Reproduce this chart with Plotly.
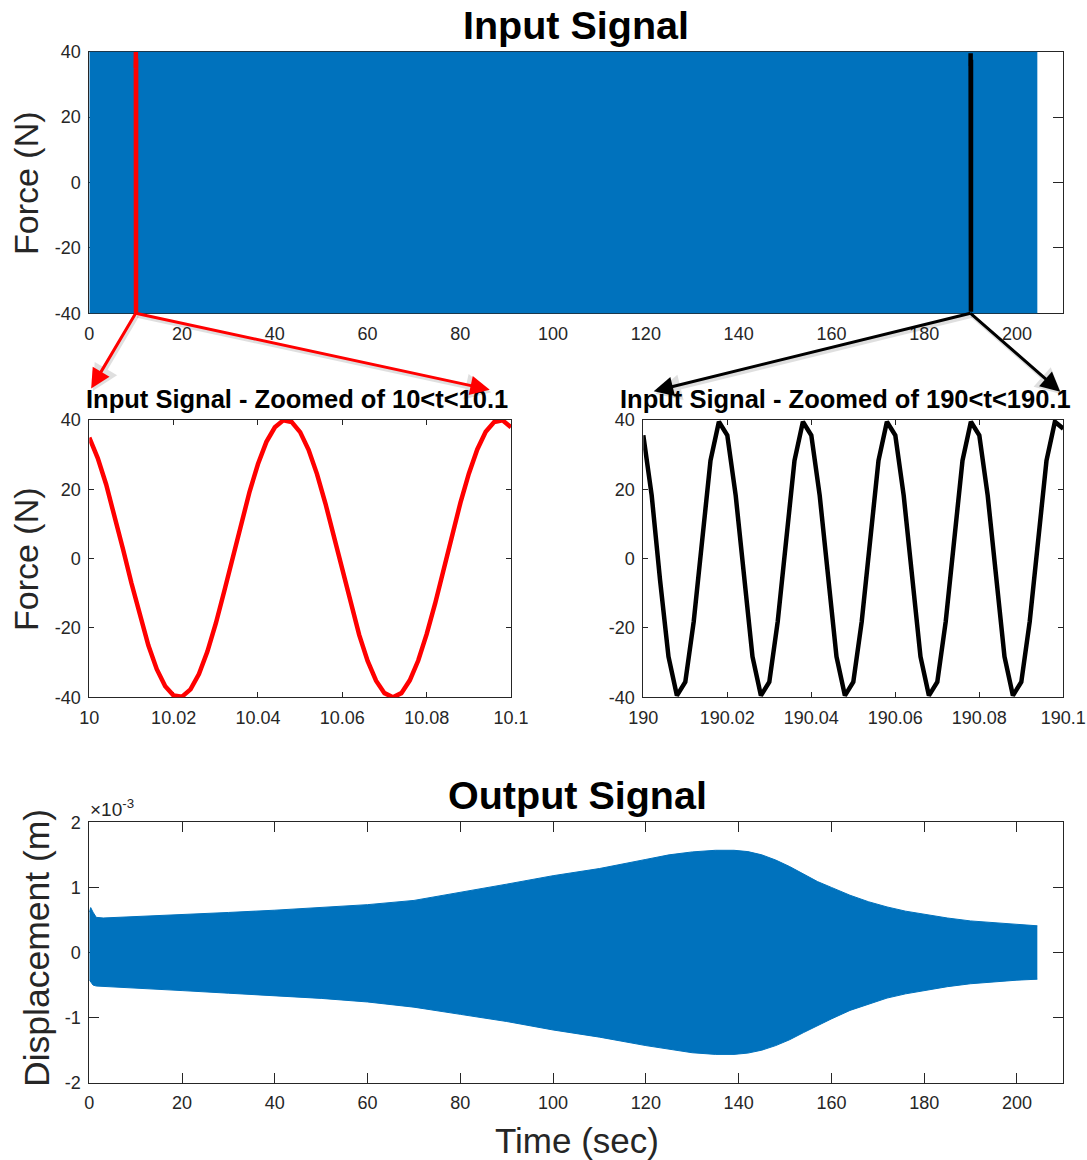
import plotly.graph_objects as go

# ---------------- data ----------------
# Input signal envelope (chirp, +/-40 N, 0 .. ~204.4 s)
input_env_t = [0.0, 204.4]
input_env_max = [40.0, 40.0]
input_env_min = [-40.0, -40.0]

# Zoomed window 10 < t < 10.1 (red)
zoom1_t = [10.000, 10.002, 10.004, 10.006, 10.008, 10.010, 10.012, 10.014, 10.016, 10.018,
           10.020, 10.022, 10.024, 10.026, 10.028, 10.030, 10.032, 10.034, 10.036, 10.038,
           10.040, 10.042, 10.044, 10.046, 10.048, 10.050, 10.052, 10.054, 10.056, 10.058,
           10.060, 10.062, 10.064, 10.066, 10.068, 10.070, 10.072, 10.074, 10.076, 10.078,
           10.080, 10.082, 10.084, 10.086, 10.088, 10.090, 10.092, 10.094, 10.096, 10.098,
           10.100]
zoom1_f = [34.9, 29.0, 21.4, 12.4, 2.7, -7.1, -16.6, -25.0, -31.9, -36.8,
           -39.5, -39.8, -37.7, -33.3, -26.8, -18.7, -9.4, 0.4, 10.2, 19.3,
           27.3, 33.7, 37.9, 39.9, 39.4, 36.5, 31.4, 24.4, 15.9, 6.4,
           -3.5, -13.1, -22.0, -29.5, -35.2, -38.8, -40.0, -38.8, -35.1, -29.4,
           -21.8, -13.0, -3.3, 6.6, 16.1, 24.5, 31.5, 36.6, 39.4, 39.9,
           37.9]

# Zoomed window 190 < t < 190.1 (black)
zoom2_t = [190.000, 190.002, 190.004, 190.006, 190.008, 190.010, 190.012, 190.014, 190.016, 190.018,
           190.020, 190.022, 190.024, 190.026, 190.028, 190.030, 190.032, 190.034, 190.036, 190.038,
           190.040, 190.042, 190.044, 190.046, 190.048, 190.050, 190.052, 190.054, 190.056, 190.058,
           190.060, 190.062, 190.064, 190.066, 190.068, 190.070, 190.072, 190.074, 190.076, 190.078,
           190.080, 190.082, 190.084, 190.086, 190.088, 190.090, 190.092, 190.094, 190.096, 190.098,
           190.100]
zoom2_f = [35.6, 18.2, -6.3, -28.3, -39.5, -35.6, -18.2, 6.3, 28.3, 39.5,
           35.6, 18.2, -6.3, -28.3, -39.5, -35.6, -18.2, 6.3, 28.3, 39.5,
           35.6, 18.2, -6.3, -28.3, -39.5, -35.6, -18.2, 6.3, 28.3, 39.5,
           35.6, 18.2, -6.3, -28.3, -39.5, -35.6, -18.2, 6.3, 28.3, 39.5,
           35.6, 18.2, -6.3, -28.3, -39.5, -35.6, -18.2, 6.3, 28.3, 39.5,
           37.5]

# Output displacement envelope (units of 1e-3 m)
output_env_t = [0.0, 0.3, 0.8, 1.5, 3, 10, 20, 30, 40, 50, 60, 70, 80, 90, 100, 110, 120, 125,
                130, 135, 139, 142, 145, 148, 151, 154, 157, 160, 164, 168, 172, 176, 180, 185,
                190, 195, 200, 204.4]
output_env_max = [0.62, 0.69, 0.62, 0.54, 0.53, 0.555, 0.585, 0.615, 0.65, 0.69, 0.735, 0.80,
                  0.92, 1.05, 1.18, 1.29, 1.43, 1.50, 1.545, 1.57, 1.57, 1.55, 1.50, 1.42, 1.32,
                  1.20, 1.09, 1.00, 0.88, 0.78, 0.70, 0.635, 0.585, 0.53, 0.485, 0.455, 0.43, 0.41]
output_env_min = [-0.42, -0.45, -0.50, -0.515, -0.52, -0.545, -0.585, -0.625, -0.665, -0.705,
                  -0.76, -0.84, -0.95, -1.06, -1.19, -1.30, -1.43, -1.49, -1.54, -1.565, -1.565,
                  -1.545, -1.50, -1.43, -1.34, -1.23, -1.12, -1.02, -0.89, -0.79, -0.70, -0.635,
                  -0.585, -0.525, -0.48, -0.45, -0.425, -0.41]

top_xticks = [0, 20, 40, 60, 80, 100, 120, 140, 160, 180, 200]
top_xticktext = ["0", "20", "40", "60", "80", "100", "120", "140", "160", "180", "200"]
force_ticks = [-40, -20, 0, 20, 40]
force_ticktext = ["-40", "-20", "0", "20", "40"]
zoom1_ticks = [10, 10.02, 10.04, 10.06, 10.08, 10.1]
zoom1_ticktext = ["10", "10.02", "10.04", "10.06", "10.08", "10.1"]
zoom2_ticks = [190, 190.02, 190.04, 190.06, 190.08, 190.1]
zoom2_ticktext = ["190", "190.02", "190.04", "190.06", "190.08", "190.1"]
disp_ticks = [-2, -1, 0, 1, 2]
disp_ticktext = ["-2", "-1", "0", "1", "2"]

# ---------------- styling ----------------
W, H = 1087, 1160
BLUE = "#0072BD"
AX = "#262626"
FONT = "Liberation Sans, Arial, Helvetica, sans-serif"


def dx(l, r):
    return [l / W, r / W]


def dy(top, bottom):
    return [1 - bottom / H, 1 - top / H]


def px(x):
    return x / W


def py(y):
    return 1 - y / H


fig = go.Figure()

# top: input signal band
fig.add_trace(go.Scatter(x=input_env_t, y=input_env_max, mode="lines",
                         line=dict(color=BLUE, width=1), xaxis="x", yaxis="y",
                         showlegend=False, hoverinfo="skip"))
fig.add_trace(go.Scatter(x=input_env_t, y=input_env_min, mode="lines", fill="tonexty",
                         fillcolor=BLUE, line=dict(color=BLUE, width=1), xaxis="x", yaxis="y",
                         showlegend=False, hoverinfo="skip"))
# zoom windows drawn on the top axes (appear as vertical lines)
fig.add_trace(go.Scatter(x=zoom1_t, y=zoom1_f, mode="lines", line=dict(color="#FF0000", width=4.5),
                         xaxis="x", yaxis="y", showlegend=False))
fig.add_trace(go.Scatter(x=zoom2_t, y=zoom2_f, mode="lines", line=dict(color="#000000", width=4.5),
                         xaxis="x", yaxis="y", showlegend=False))

# middle left / right
fig.add_trace(go.Scatter(x=zoom1_t, y=zoom1_f, mode="lines", line=dict(color="#FF0000", width=4.5),
                         xaxis="x2", yaxis="y2", showlegend=False))
fig.add_trace(go.Scatter(x=zoom2_t, y=zoom2_f, mode="lines", line=dict(color="#000000", width=4.5),
                         xaxis="x3", yaxis="y3", showlegend=False))

# bottom: output band
fig.add_trace(go.Scatter(x=output_env_t, y=output_env_max, mode="lines",
                         line=dict(color=BLUE, width=1), xaxis="x4", yaxis="y4",
                         showlegend=False, hoverinfo="skip"))
fig.add_trace(go.Scatter(x=output_env_t, y=output_env_min, mode="lines", fill="tonexty",
                         fillcolor=BLUE, line=dict(color=BLUE, width=1), xaxis="x4", yaxis="y4",
                         showlegend=False, hoverinfo="skip"))


def axis(domain, rng, tickvals, ticktext, ticklen=10, anchor=None):
    d = dict(domain=domain, range=rng, tickvals=tickvals, ticktext=ticktext, showline=True,
             linecolor=AX, linewidth=1, mirror="ticks", ticks="inside", ticklen=ticklen,
             tickcolor=AX, tickwidth=1, showgrid=False, zeroline=False, layer="below traces",
             tickfont=dict(family=FONT, size=18, color=AX), ticklabelstandoff=4,
             fixedrange=True, automargin=False, anchor=anchor)
    return d


layout = dict(
    width=W, height=H, autosize=False,
    margin=dict(l=0, r=0, t=0, b=0, pad=0),
    paper_bgcolor="white", plot_bgcolor="white",
    font=dict(family=FONT, color=AX),
    xaxis=axis(dx(89.3, 1063.3), [0, 210], top_xticks, top_xticktext, anchor="y"),
    yaxis=axis(dy(51.7, 313.3), [-40, 40], force_ticks, force_ticktext, anchor="x"),
    xaxis2=axis(dx(89.3, 511), [10, 10.1], zoom1_ticks, zoom1_ticktext, ticklen=5, anchor="y2"),
    yaxis2=axis(dy(420, 697.3), [-40, 40], force_ticks, force_ticktext, ticklen=5, anchor="x2"),
    xaxis3=axis(dx(643.3, 1063.3), [190, 190.1], zoom2_ticks, zoom2_ticktext, ticklen=5, anchor="y3"),
    yaxis3=axis(dy(420, 697.3), [-40, 40], force_ticks, force_ticktext, ticklen=5, anchor="x3"),
    xaxis4=axis(dx(89.3, 1063.3), [0, 210], top_xticks, top_xticktext, anchor="y4"),
    yaxis4=axis(dy(822.3, 1082.7), [-2, 2], disp_ticks, disp_ticktext, anchor="x4"),
)
fig.update_layout(**layout)

ann = []


def label(text, x, y, size, bold=False, angle=0, xanchor="center", yanchor="middle", color="black"):
    ann.append(dict(text=text, x=px(x), y=py(y), xref="paper", yref="paper", showarrow=False,
                    xanchor=xanchor, yanchor=yanchor, textangle=angle,
                    font=dict(family=FONT, size=size, color=color,
                              weight="bold" if bold else "normal")))


label("Input Signal", 576, 25, 39.5, bold=True)
label("Input Signal - Zoomed of 10&lt;t&lt;10.1", 297, 399, 25.5, bold=True)
label("Input Signal - Zoomed of 190&lt;t&lt;190.1", 845, 399, 25.5, bold=True)
label("Output Signal", 577, 795, 39.5, bold=True)
label("Force (N)", 26, 183, 34, angle=-90, color=AX)
label("Force (N)", 26, 559, 34, angle=-90, color=AX)
label("Displacement (m)", 37, 948, 35.5, angle=-90, color=AX)
label("Time (sec)", 577, 1140, 35, color=AX)
label("×10<sup>-3</sup>", 88, 822, 19, xanchor="left", yanchor="bottom", color=AX)


def arrow(xref, yref, x, y, axp, ayp, color, shadow=False):
    d = dict(x=x, y=y, xref=xref, yref=yref, ax=axp, ay=ayp, axref="pixel", ayref="pixel",
             text="", showarrow=True, arrowside="start", startarrowhead=2,
             startarrowsize=1.3, arrowwidth=3, arrowcolor=color, standoff=0, startstandoff=0)
    if shadow:
        d.update(xshift=1.5, yshift=-2.5, arrowcolor="rgba(0,0,0,0.12)", arrowwidth=4)
    ann.append(d)


# arrows from the bottom of the zoom markers to the zoomed panels
arrow_specs = [
    ("x", "y", zoom1_t[0], -40, -45.4, 76.7, "#FF0000"),
    ("x", "y", zoom1_t[0], -40, 355.6, 76.7, "#FF0000"),
    ("x", "y", zoom2_t[0], -40, -318.3, 78.2, "#000000"),
    ("x", "y", zoom2_t[0], -40, 91.2, 79.7, "#000000"),
]
for s in arrow_specs:
    arrow(*s, shadow=True)
for s in arrow_specs:
    arrow(*s)

fig.update_layout(annotations=ann)

fig.write_html("out.html", config={"displayModeBar": False},
               post_script="document.body.style.margin='0';document.body.style.overflow='hidden';")
